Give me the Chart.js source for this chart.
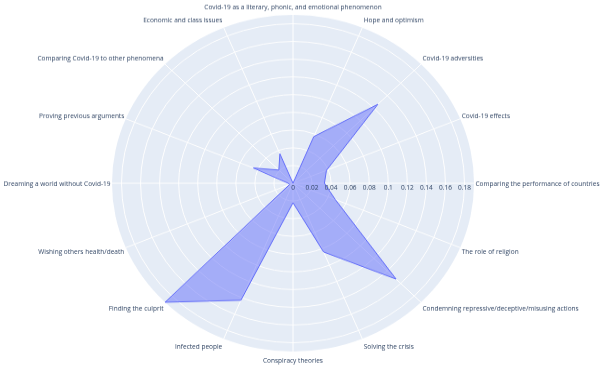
<!DOCTYPE html>
<html>
<head>
<meta charset="utf-8">
<script src="https://cdn.jsdelivr.net/npm/chart.js@4.4.1/dist/chart.umd.min.js"></script>
<style>
  html, body { margin: 0; padding: 0; background: #fff; overflow: hidden; }
  #wrap { width: 600px; height: 370px; overflow: hidden; }
  /* the reference is a little squashed vertically, so draw round and squash the same way */
  #chart { display: block; transform: scaleY(0.93); transform-origin: 0 0; }
</style>
</head>
<body>
<div id="wrap"><canvas id="chart" width="600" height="398"></canvas></div>
<script>
// categories as the original plot lists them, counter-clockwise from the right
var categories = [
  'Comparing the performance of countries',
  'Covid-19 effects',
  'Covid-19 adversities',
  'Hope and optimism',
  'Covid-19 as a literary, phonic, and emotional phenomenon',
  'Economic and class issues',
  'Comparing Covid-19 to other phenomena',
  'Proving previous arguments',
  'Dreaming a world without Covid-19',
  'Wishing others health/death',
  'Finding the culprit',
  'Infected people',
  'Conspiracy theories',
  'Solving the crisis',
  'Condemning repressive/deceptive/misusing actions',
  'The role of religion'
];
var shares = [0.033, 0.038, 0.126, 0.057, 0, 0.036, 0.021, 0.045,
              0.005, 0.004, 0.19, 0.143, 0.022, 0.084, 0.153, 0.048];
var tickValues = [0, 0.02, 0.04, 0.06, 0.08, 0.1, 0.12, 0.14, 0.16, 0.18];
var tickLabels = ['0', '0.02', '0.04', '0.06', '0.08', '0.1', '0.12', '0.14', '0.16', '0.18'];
var rangeMax = 0.19;

// chart.js walks clockwise, so keep the first one and reverse the rest
var order = [0];
for (var i = categories.length - 1; i > 0; i--) order.push(i);
var labels = order.map(function (i) { return categories[i]; });
var values = order.map(function (i) { return shares[i]; });

var textColor = '#2a3f5f';

var polarText = {
  id: 'polarText',
  afterDraw: function (chart) {
    var r = chart.scales.r;
    var ctx = chart.ctx;
    ctx.save();
    ctx.font = '6.5px "Open Sans"';
    ctx.fillStyle = textColor;
    ctx.textBaseline = 'middle';

    // radial ticks sit under the right-hand axis
    ctx.textAlign = 'center';
    tickValues.forEach(function (v, k) {
      var d = r.getDistanceFromCenterForValue(v);
      ctx.fillText(tickLabels[k], r.xCenter + d, r.yCenter + 5.5);
    });

    // category names just outside the rim
    labels.forEach(function (name, i) {
      var p = r.getPointPositionForValue(i, rangeMax);
      var dx = (p.x - r.xCenter) / r.drawingArea;
      var dy = (p.y - r.yCenter) / r.drawingArea;
      var x = p.x;
      if (dx > 0.05) { ctx.textAlign = 'left'; x += 1.5; }
      else if (dx < -0.05) { ctx.textAlign = 'right'; x -= 1.5; }
      else ctx.textAlign = 'center';
      ctx.fillText(name, x, p.y + dy * 9.1 + 1);
    });
    ctx.restore();
  }
};

new Chart(document.getElementById('chart'), {
  type: 'radar',
  data: {
    labels: labels,
    datasets: [{
      data: values,
      borderColor: '#636efa',
      borderWidth: 1,
      backgroundColor: 'rgba(99, 110, 250, 0.5)',
      fill: true,
      pointRadius: 0,
      tension: 0
    }]
  },
  options: {
    responsive: false,
    animation: false,
    devicePixelRatio: 1,
    layout: { padding: { left: 112, right: 125, top: 16, bottom: 19 } },
    plugins: {
      legend: { display: false },
      tooltip: { enabled: false }
    },
    scales: {
      r: {
        min: 0,
        max: rangeMax,
        startAngle: 90,
        backgroundColor: '#e5ecf6',
        grid: {
          circular: true,
          lineWidth: 1,
          color: function (c) { return c.tick && c.tick.value > 0.185 ? 'rgba(0,0,0,0)' : '#ffffff'; }
        },
        angleLines: { color: '#ffffff', lineWidth: 1 },
        ticks: { display: false, stepSize: 0.02 },
        pointLabels: { display: false }
      }
    }
  },
  plugins: [polarText]
});
</script>
</body>
</html>
